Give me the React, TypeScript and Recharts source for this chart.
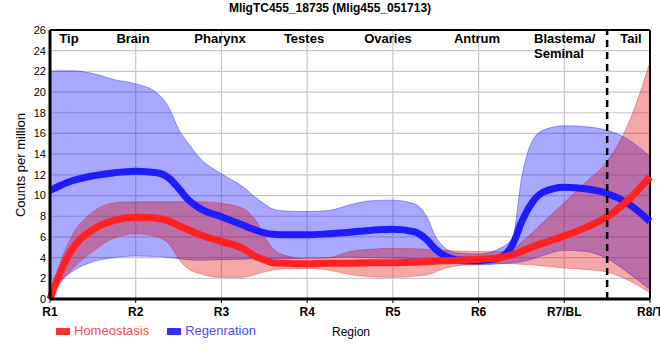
import React from "react";
import {
  ComposedChart,
  Area,
  Line,
  XAxis,
  YAxis,
  CartesianGrid,
  ReferenceLine,
} from "recharts";

// x position along the body (0 = R1 ... 7 = R8/T)
const xPos = [0, 0.1, 0.25, 0.5, 0.75, 1, 1.25, 1.4, 1.5, 1.6, 1.75, 2, 2.25, 2.4, 2.5, 2.6, 2.75, 3, 3.25, 3.5, 3.75, 4, 4.25, 4.4, 4.5, 4.6, 4.75, 5, 5.25, 5.4, 5.5, 5.6, 5.75, 6, 6.25, 6.5, 6.75, 7];

const homMean = [0, 2.2, 4.7, 6.7, 7.6, 7.9, 7.8, 7.5, 7.1, 6.75, 6.2, 5.55, 4.9, 4.1, 3.8, 3.5, 3.45, 3.4, 3.45, 3.45, 3.5, 3.5, 3.55, 3.6, 3.65, 3.7, 3.75, 3.85, 4.0, 4.3, 4.6, 4.95, 5.4, 6.1, 6.9, 7.95, 9.6, 11.8];
const homHigh = [0, 3.0, 6.0, 8.4, 9.3, 9.4, 9.4, 9.4, 9.4, 9.4, 9.4, 9.25, 8.75, 7.6, 6.1, 4.9, 4.2, 3.9, 4.0, 4.6, 4.8, 4.9, 4.85, 4.8, 4.75, 4.7, 4.65, 4.6, 4.6, 4.8, 5.5, 6.2, 7.4, 9.3, 11.3, 13.3, 17.0, 22.9];
const homLow = [0, 1.3, 2.8, 4.6, 5.9, 6.3, 6.0, 5.2, 3.9, 3.0, 2.45, 2.1, 2.1, 2.4, 2.6, 2.8, 2.9, 2.95, 2.8, 2.35, 2.15, 2.1, 2.2, 2.35, 2.6, 2.95, 3.2, 3.35, 3.45, 3.4, 3.35, 3.3, 3.2, 3.0, 2.85, 2.6, 1.8, 0.6];

const regMean = [10.5, 10.9, 11.4, 11.9, 12.2, 12.35, 12.2, 11.6, 10.7, 9.7, 8.75, 7.95, 7.15, 6.65, 6.4, 6.25, 6.2, 6.2, 6.3, 6.45, 6.65, 6.75, 6.5, 5.7, 4.8, 4.2, 3.8, 3.7, 4.0, 5.3, 7.4, 9.0, 10.3, 10.8, 10.65, 10.2, 9.2, 7.5];
const regHigh = [22.0, 22.05, 22.05, 21.8, 21.2, 20.8, 19.9, 18.3, 16.4, 15.2, 13.6, 12.1, 10.85, 9.8, 9.2, 8.7, 8.5, 8.45, 8.55, 9.1, 9.5, 9.55, 9.2, 7.9, 6.0, 5.0, 4.45, 4.35, 4.9, 6.0, 11.6, 14.8, 16.3, 16.75, 16.65, 16.3, 15.4, 13.75];
const regLow = [0, 1.5, 2.6, 3.6, 4.0, 4.15, 4.1, 4.0, 3.9, 3.8, 3.75, 3.8, 3.85, 3.9, 3.9, 3.9, 3.9, 3.95, 4.0, 4.05, 4.0, 3.95, 3.9, 3.8, 3.7, 3.5, 3.4, 3.3, 3.4, 3.5, 3.6, 3.8, 4.2, 4.7, 4.6, 3.9, 2.5, 0.9];

const regionTicks = ["R1", "R2", "R3", "R4", "R5", "R6", "R7/BL", "R8/T"];
const yTicks = [0, 2, 4, 6, 8, 10, 12, 14, 16, 18, 20, 22, 24, 26];

const data = xPos.map((x, i) => ({
  x,
  homMean: homMean[i],
  homBand: [homLow[i], homHigh[i]],
  regMean: regMean[i],
  regBand: [regLow[i], regHigh[i]],
}));

const FONT = '"Liberation Sans", Arial, sans-serif';

const topLabels = [
  { text: "Tip", left: 69 },
  { text: "Brain", left: 133 },
  { text: "Pharynx", left: 220 },
  { text: "Testes", left: 304 },
  { text: "Ovaries", left: 388 },
  { text: "Antrum", left: 477 },
  { text: "Tail", left: 631 },
];

const App: React.FC = () => {
  return (
    <div
      style={{
        position: "absolute",
        left: 0,
        top: 0,
        width: 660,
        height: 360,
        fontFamily: FONT,
        background: "#fff",
        overflow: "hidden",
      }}
    >
      <ComposedChart
        width={660}
        height={360}
        data={data}
        margin={{ top: 30, right: 10, bottom: 41, left: 10 }}
      >
        <CartesianGrid stroke="#c8c8c8" strokeWidth={1.2} />
        <XAxis
          dataKey="x"
          type="number"
          domain={[0, 7]}
          ticks={[0, 1, 2, 3, 4, 5, 6, 7]}
          interval={0}
          tickFormatter={(v: number) => regionTicks[v]}
          tick={{ fill: "#000", fontSize: 12, fontWeight: "bold", fontFamily: FONT }}
          tickSize={4}
          tickMargin={4}
          tickLine={{ stroke: "#000" }}
          axisLine={{ stroke: "#000", strokeWidth: 3 }}
          height={20}
        />
        <YAxis
          domain={[0, 26]}
          ticks={yTicks}
          interval={0}
          tick={{ fill: "#000", fontSize: 11, fontFamily: FONT }}
          tickSize={2}
          tickMargin={2}
          tickLine={false}
          axisLine={{ stroke: "#000", strokeWidth: 3 }}
          width={40}
        />
        <ReferenceLine y={26} stroke="#000" strokeWidth={2} />
        <ReferenceLine x={7} stroke="#000" strokeWidth={2} />
        <Area
          type="monotone"
          dataKey="regBand"
          fill="#0000ff"
          fillOpacity={0.34}
          stroke="#0000ff"
          strokeOpacity={0.35}
          strokeWidth={1}
          isAnimationActive={false}
        />
        <Line
          type="monotone"
          dataKey="regMean"
          stroke="#1c1cff"
          strokeWidth={7}
          dot={false}
          isAnimationActive={false}
        />
        <Area
          type="monotone"
          dataKey="homBand"
          fill="#e00000"
          fillOpacity={0.34}
          stroke="#e00000"
          strokeOpacity={0.3}
          strokeWidth={1}
          isAnimationActive={false}
        />
        <Line
          type="monotone"
          dataKey="homMean"
          stroke="#ff2020"
          strokeWidth={7}
          dot={false}
          isAnimationActive={false}
        />
        <ReferenceLine x={6.5} stroke="#000" strokeWidth={2.5} strokeDasharray="7 5" />
      </ComposedChart>

      <div
        style={{
          position: "absolute",
          left: 0,
          width: 660,
          top: 1,
          textAlign: "center",
          fontWeight: "bold",
          fontSize: 12,
          lineHeight: "15px",
        }}
      >
        MligTC455_18735 (Mlig455_051713)
      </div>

      {topLabels.map((l) => (
        <div
          key={l.text}
          style={{
            position: "absolute",
            left: l.left,
            top: 31,
            transform: "translateX(-50%)",
            fontWeight: "bold",
            fontSize: 13,
            lineHeight: "15px",
            whiteSpace: "nowrap",
          }}
        >
          {l.text}
        </div>
      ))}
      <div
        style={{
          position: "absolute",
          left: 534,
          top: 31,
          fontWeight: "bold",
          fontSize: 13,
          lineHeight: "15px",
        }}
      >
        Blastema/
        <br />
        Seminal
      </div>

      <div
        style={{
          position: "absolute",
          left: 20,
          top: 165,
          transform: "translate(-50%, -50%) rotate(-90deg)",
          fontSize: 13,
          whiteSpace: "nowrap",
        }}
      >
        Counts per million
      </div>

      <div
        style={{
          position: "absolute",
          top: 323,
          left: 56,
          display: "flex",
          alignItems: "center",
          fontSize: 13,
          lineHeight: "16px",
        }}
      >
        <span style={{ width: 14, height: 7, background: "#ff3333", marginRight: 4 }} />
        <span style={{ color: "#ff4a4a" }}>Homeostasis</span>
        <span style={{ width: 14, height: 7, background: "#3333ff", marginLeft: 18, marginRight: 4 }} />
        <span style={{ color: "#4a4aff" }}>Regenration</span>
      </div>
      <div
        style={{
          position: "absolute",
          top: 324,
          left: 332,
          fontSize: 12,
          lineHeight: "16px",
        }}
      >
        Region
      </div>
    </div>
  );
};

export default App;
